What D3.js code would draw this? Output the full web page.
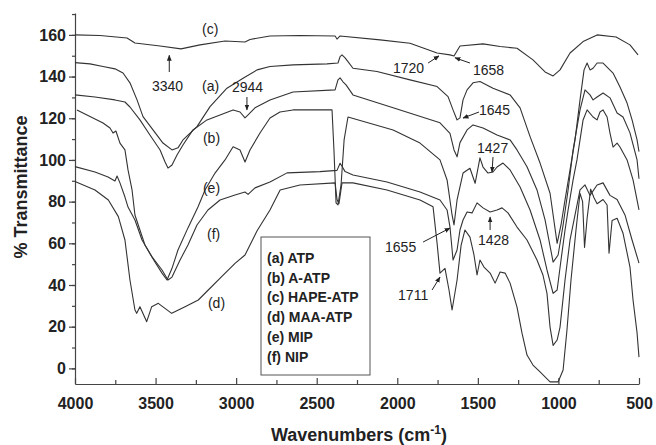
<!DOCTYPE html>
<html>
<head>
<meta charset="utf-8">
<script src="https://cdn.jsdelivr.net/npm/d3@7/dist/d3.min.js"></script>
<style>
  body { margin: 0; background: #fff; }
  svg { display: block; font-family: "Liberation Sans", Arial, sans-serif; }
  .axis path, .axis line { stroke: #444; stroke-width: 1.2; }
  .axis text { font-size: 16px; font-weight: bold; fill: #222; }
  .curve { fill: none; stroke: #333; stroke-width: 1.1; stroke-linejoin: round; }
  .note { font-size: 14px; fill: #222; }
  .legend text { font-size: 14px; font-weight: bold; fill: #222; }
</style>
</head>
<body>
<svg id="chart" width="656" height="445"></svg>
<script>
// Spectra, as [wavenumber (cm-1), % transmittance].
var curveA = [[4000,146.7],[3907,146.1],[3826,144.8],[3752,143.7],[3702,141.7],[3659,137],[3615,128.8],
  [3578,120.8],[3516,114.4],[3454,108.1],[3398,104.8],[3361,105.8],[3330,109.6],[3243,116],[3162,125.6],
  [3057,134.4],[2957,139.2],[2870,143.2],[2790,144.8],[2647,145.6],[2436,146.1],[2368,146.5],[2355,149.6],
  [2343,150.4],[2324,149],[2306,147.2],[2275,144],[2126,142.4],[1921,138.4],[1753,135.2],[1685,130.4],
  [1654,124],[1629,119.2],[1611,120.2],[1592,128.8],[1567,133.6],[1530,137],[1487,137.6],[1406,134.4],
  [1300,131.2],[1238,125],[1176,111.2],[1114,98.5],[1052,84],[1008,60],[984,68.8],[959,80.8],[928,95.2],
  [897,109.6],[866,128.8],[841,143.2],[822,146.5],[804,143.2],[785,144],[760,146.5],[723,146.5],
  [661,141.7],[618,135],[574,127.3],[543,119.2],[512,109.6],[500,104]];
var curveB = [[4000,131.2],[3876,130.2],[3752,128.8],[3690,127.8],[3659,125.4],[3597,119.2],[3535,112],
  [3472,104.8],[3441,99],[3423,96.1],[3398,97.6],[3367,102.4],[3330,107.2],[3268,114.4],[3181,119.2],
  [3100,121.6],[3019,124],[2976,123],[2945,120.2],[2926,121.6],[2883,125],[2790,128.8],[2647,132.6],
  [2386,133.6],[2368,138.4],[2355,139.4],[2337,137.5],[2318,136],[2275,131.2],[2026,125],[1735,117.8],
  [1673,112.8],[1648,104.8],[1629,101.5],[1611,108.3],[1567,114.4],[1530,116.8],[1468,115.3],[1381,112],
  [1300,109.6],[1257,104.8],[1195,96.7],[1133,85.6],[1083,71.2],[1033,51],[1002,54.4],[971,68.8],
  [940,85.6],[909,104.8],[866,124],[835,133.6],[804,131.2],[785,128.8],[760,130.2],[723,132.1],
  [680,129.8],[636,122.5],[599,120.6],[556,113],[512,100],[500,91]];
var curveC = [[4000,160],[3845,159.7],[3677,158.5],[3628,156.1],[3472,154.7],[3342,153.3],[3224,155.2],
  [3069,157.1],[2945,156.6],[2914,157.8],[2790,159.5],[2604,159.7],[2386,159.5],[2374,158],[2355,159.5],
  [2107,157.6],[1921,156],[1753,151.3],[1673,150.4],[1648,149.9],[1611,154.7],[1468,155.7],[1362,154.4],
  [1257,153.6],[1158,148],[1083,142.2],[1033,140.3],[990,143.2],[928,151.3],[847,156.8],[760,160],
  [642,159],[556,155.2],[506,150.4]];
var curveD = [[4000,89.6],[3876,85.6],[3793,80.8],[3731,72.8],[3690,61.6],[3659,42.4],[3628,28],
  [3617,26.4],[3597,29.6],[3555,22.4],[3524,29.6],[3483,31.2],[3400,26.4],[3317,29.6],[3235,32.8],
  [3173,37.6],[3090,44],[3007,50.4],[2945,54.4],[2870,66],[2790,76],[2727,85.6],[2604,88],[2386,89],
  [2374,81],[2362,79],[2343,89],[2275,89],[2064,85.6],[1859,80.8],[1778,77.5],[1753,60],[1735,45.7],
  [1704,48],[1679,37.6],[1660,28],[1629,42.4],[1604,59],[1580,66.4],[1549,63],[1524,54.4],[1505,44.8],
  [1487,52],[1462,48.6],[1424,45.7],[1393,40.9],[1362,46.2],[1331,45.7],[1300,40.9],[1257,29.4],
  [1226,16.9],[1195,6.4],[1158,1.6],[1114,-1.7],[1052,-6.5],[1002,-6.5],[971,-0.8],[947,18.4],
  [922,42.4],[891,66.4],[866,84],[850,80],[838,58],[822,72],[800,86],[780,82],[760,79],[723,81],
  [698,78.4],[686,55.2],[667,71],[636,72],[599,64.8],[556,48.6],[537,32.8],[512,17],[500,5.4]];
var curveE = [[3988,124],[3907,120.8],[3826,117.7],[3783,115.3],[3764,112.9],[3746,113.9],[3721,108.1],
  [3690,104.8],[3671,95.2],[3646,85.6],[3628,73.6],[3597,66.4],[3566,59.2],[3504,51],[3460,45.7],
  [3429,42.4],[3398,48],[3361,56.8],[3299,67.4],[3237,77.4],[3193,85.6],[3131,93.7],[3069,100],
  [3019,106.3],[2976,104.8],[2945,99],[2914,104.8],[2852,112.9],[2790,120.1],[2728,123],[2647,124],
  [2405,124],[2393,104.8],[2380,79.4],[2368,78.4],[2349,88],[2330,109.6],[2306,120.6],[2026,114.4],
  [1859,108.1],[1735,100],[1691,90.4],[1660,73.6],[1648,68.8],[1629,80.8],[1592,93.7],[1549,96],
  [1517,88.8],[1487,101],[1468,96.6],[1437,93.7],[1406,94.2],[1381,96.6],[1344,98.5],[1300,95.2],
  [1238,87],[1176,76],[1114,61.6],[1071,47.2],[1033,36],[1008,37.6],[984,52],[959,66.4],[940,76],
  [909,90.4],[885,100],[847,119.2],[822,124],[785,120.6],[760,119.2],[742,123],[723,124],[698,120.6],
  [680,112.9],[661,106.2],[636,108.1],[618,106.2],[574,100],[537,90.4],[500,76]];
var curveF = [[4000,96.8],[3876,94.2],[3795,91.8],[3752,89.9],[3739,92.3],[3721,89],[3690,82.2],
  [3671,77.4],[3628,71.2],[3584,61.6],[3522,53.5],[3460,47.2],[3423,42.4],[3398,43.8],[3348,52],
  [3299,59.2],[3243,68.8],[3175,76],[3100,80.8],[3007,83.2],[2945,84.6],[2926,83.5],[2883,86.6],
  [2790,89.4],[2684,93.8],[2480,94.4],[2374,95],[2355,98.4],[2343,97],[2324,94.4],[2275,92.8],
  [2064,89.4],[1859,84.6],[1735,80.8],[1691,76],[1673,67.8],[1654,52],[1629,56.8],[1611,66.4],
  [1592,71.2],[1567,75],[1536,74.6],[1505,79.4],[1468,77],[1424,75],[1381,76],[1350,77],[1313,74.6],
  [1257,67.8],[1195,61.6],[1133,52],[1096,44.8],[1071,36],[1052,19.8],[1033,11],[1008,13.6],[990,19.8],
  [959,42.4],[928,61.6],[897,73.6],[866,85.6],[835,88],[804,83],[760,88],[723,89],[680,83],[636,81],
  [587,73.6],[543,61.6],[500,50.5]];

var xTicks = [4000, 3500, 3000, 2500, 2000, 1500, 1000, 500];
var yTicks = [0, 20, 40, 60, 80, 100, 120, 140, 160];
var legendLabels = ['(a) ATP', '(b) A-ATP', '(c) HAPE-ATP', '(d) MAA-ATP', '(e) MIP', '(f) NIP'];

// Notes on the peaks: text, text position [wavenumber, %T], arrow from/to.
var notes = [
  { t: '3340', at: [3522, 133.1], from: [3415, 142.2], to: [3415, 150.2] },
  { t: '2944', at: [3026, 132.6], from: [2933, 130.2], to: [2933, 124] },
  { t: '1720', at: [2027, 141.7], from: [1809, 146.5], to: [1741, 149.9] },
  { t: '1658', at: [1530, 140.8], from: [1549, 146.5], to: [1642, 149] },
  { t: '1645', at: [1493, 121.6], from: [1493, 123], to: [1592, 120.1] },
  { t: '1427', at: [1505, 103.3], from: [1406, 101.4], to: [1412, 94.2] },
  { t: '1428', at: [1499, 59.2], from: [1424, 66.4], to: [1424, 72.6] },
  { t: '1655', at: [2076, 55.8], from: [1840, 60.6], to: [1673, 67.3] },
  { t: '1711', at: [1995, 32.8], from: [1784, 37.6], to: [1735, 43.8] }
];
var curveNotes = [
  { t: '(c)', at: [3212, 160.5] },
  { t: '(a)', at: [3212, 133.1] },
  { t: '(b)', at: [3206, 108.1] },
  { t: '(e)', at: [3206, 84.1] },
  { t: '(f)', at: [3181, 62] },
  { t: '(d)', at: [3175, 28.9] }
];

var svg = d3.select('#chart');
var margin = { left: 75, right: 17, top: 13, bottom: 61 };
var width = 656 - margin.left - margin.right;
var height = 445 - margin.top - margin.bottom;

var x = d3.scaleLinear().domain([4000, 500]).range([0, width]);
var y = d3.scaleLinear().domain([-7.5, 170.5]).range([height, 0]);

var g = svg.append('g')
  .attr('transform', 'translate(' + margin.left + ',' + margin.top + ')');

var defs = svg.append('defs');
defs.append('marker')
  .attr('id', 'head')
  .attr('viewBox', '0 0 10 10')
  .attr('refX', 9).attr('refY', 5)
  .attr('markerWidth', 6).attr('markerHeight', 6)
  .attr('orient', 'auto')
  .append('path').attr('d', 'M0,1L10,5L0,9Z').attr('fill', '#222');

// Minor ticks first, then the major axis on top.
g.append('g').attr('class', 'axis')
  .call(d3.axisLeft(y).tickValues(d3.range(0, 171, 10)).tickSize(3).tickFormat(''))
  .select('.domain').remove();
g.append('g').attr('class', 'axis')
  .call(d3.axisLeft(y).tickValues(yTicks).tickSize(6).tickSizeOuter(0).tickPadding(3)
    .tickFormat(d3.format('d')));

g.append('g').attr('class', 'axis')
  .attr('transform', 'translate(0,' + height + ')')
  .call(d3.axisBottom(x).tickValues(d3.range(750, 4000, 500)).tickSize(-4).tickFormat(''))
  .select('.domain').remove();
g.append('g').attr('class', 'axis')
  .attr('transform', 'translate(0,' + height + ')')
  .call(d3.axisBottom(x).tickValues(xTicks).tickSize(-6).tickSizeOuter(0).tickPadding(14)
    .tickFormat(d3.format('d')));

var line = d3.line()
  .x(function(d) { return x(d[0]); })
  .y(function(d) { return y(d[1]); });

[curveA, curveB, curveC, curveD, curveE, curveF].forEach(function(c) {
  g.append('path').attr('class', 'curve').attr('d', line(c));
});

// Curve letters.
curveNotes.forEach(function(n) {
  g.append('text').attr('class', 'note')
    .attr('x', x(n.at[0])).attr('y', y(n.at[1]))
    .text(n.t);
});

// Peak notes with arrows.
notes.forEach(function(n) {
  g.append('text').attr('class', 'note')
    .attr('x', x(n.at[0])).attr('y', y(n.at[1]))
    .text(n.t);
  g.append('line')
    .attr('x1', x(n.from[0])).attr('y1', y(n.from[1]))
    .attr('x2', x(n.to[0])).attr('y2', y(n.to[1]))
    .attr('stroke', '#222').attr('stroke-width', 1)
    .attr('marker-end', 'url(#head)');
});

// Legend box.
var legend = g.append('g').attr('class', 'legend')
  .attr('transform', 'translate(' + (261 - margin.left) + ',' + (237 - margin.top) + ')');
legend.append('rect')
  .attr('width', 109).attr('height', 138)
  .attr('fill', '#fff').attr('stroke', '#555').attr('stroke-width', 1);
legend.selectAll('text').data(legendLabels).enter().append('text')
  .attr('x', 6)
  .attr('y', function(d, i) { return 26 + i * 19.7; })
  .text(function(d) { return d; });

// Axis titles.
svg.append('text')
  .attr('transform', 'translate(27,187) rotate(-90)')
  .attr('text-anchor', 'middle')
  .style('font-size', '18px').style('font-weight', 'bold').attr('fill', '#222')
  .text('% Transmittance');
var xt = svg.append('text')
  .attr('x', margin.left + width / 2 + 2).attr('y', 441)
  .attr('text-anchor', 'middle')
  .style('font-size', '18px').style('font-weight', 'bold').attr('fill', '#222');
xt.append('tspan').text('Wavenumbers (cm');
xt.append('tspan').attr('dy', -7).style('font-size', '12px').text('-1');
xt.append('tspan').attr('dy', 7).text(')');
</script>
</body>
</html>
